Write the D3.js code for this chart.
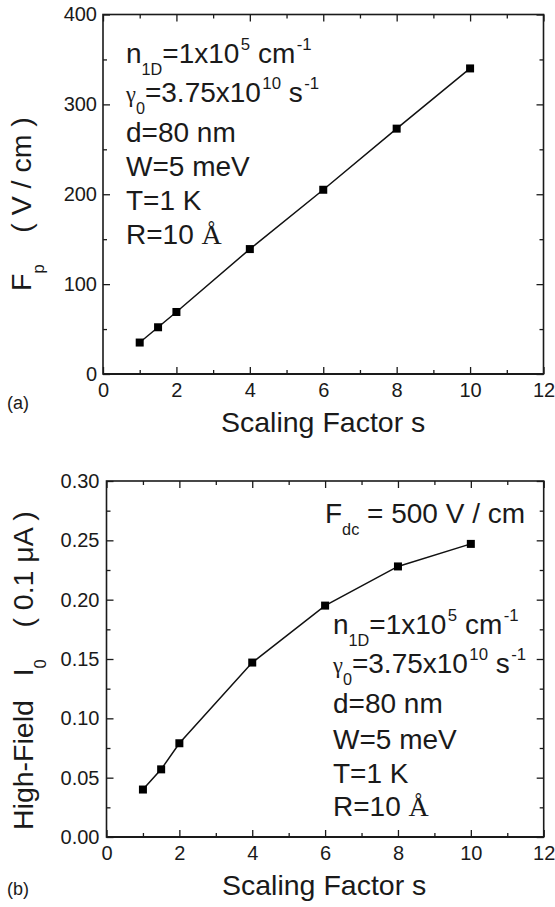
<!DOCTYPE html>
<html>
<head>
<meta charset="utf-8">
<script src="https://cdn.jsdelivr.net/npm/d3@7"></script>
<style>
  html, body { margin: 0; padding: 0; background: #fff; }
  svg { display: block; }
  text { font-family: "Liberation Sans", Arial, Helvetica, sans-serif; fill: #1a1a1a; white-space: pre; }
</style>
</head>
<body>
<svg id="chart" width="555" height="907"></svg>
<script>
// ---- data ----
const scaling = [1, 1.5, 2, 4, 6, 8, 10];
const pinningField = [35, 52, 69, 139, 205, 273, 340];          // F_p (V/cm)
const highFieldCurrent = [0.040, 0.057, 0.079, 0.147, 0.195, 0.228, 0.247]; // I_0 (0.1 uA)

const sTicks = [0, 2, 4, 6, 8, 10, 12];
const sMinor = [1, 3, 5, 7, 9, 11];
const fieldTicks = [0, 100, 200, 300, 400];
const fieldMinor = [50, 150, 250, 350];
const currentTicks = [0, 0.05, 0.10, 0.15, 0.20, 0.25, 0.30];
const currentMinor = [0.025, 0.075, 0.125, 0.175, 0.225, 0.275];

const xTitle = "Scaling Factor s";
const panelTags = ["(a)", "(b)"];

// rich-text segments: [text, style]
const paramLines = [
  [["n"], ["1D", "sub"], ["=1x10"], ["5", "sup"], [" cm"], ["-1", "sup"]],
  [["\u03B3", "greek"], ["0", "sub"], ["=3.75x10"], ["10", "sup"], [" s"], ["-1", "sup"]],
  [["d=80 nm"]],
  [["W=5 meV"]],
  [["T=1 K"]],
  [["R=10 "], ["\u00C5", "serif"]]
];
const fieldNote = [["F"], ["dc", "sub"], [" = 500 V / cm"]];
const fieldTitle = [["F"], ["p", "sub"], ["    ( V / cm )"]];
const currentTitle = [["High-Field   I"], ["0", "sub"], ["    ( 0.1 \u03BCA )"]];

// ---- drawing ----
const svg = d3.select("#chart");

function richText(g, segs, x, y, size, opts = {}) {
  const t = g.append("text")
    .attr("x", x).attr("y", y)
    .attr("font-size", size)
    .attr("text-anchor", opts.anchor || "start");
  if (opts.transform) t.attr("transform", opts.transform);
  let shift = 0;
  segs.forEach(([str, style]) => {
    const sp = t.append("tspan").text(str);
    let target = 0, fs = size;
    if (style === "sub") { target = size * 0.44; fs = size * 0.58; }
    if (style === "sup") { target = -size * 0.45; fs = size * 0.6; }
    if (style === "greek") { fs = size * 0.8; sp.attr("font-family", "'Liberation Serif', 'DejaVu Serif', serif"); }
    if (style === "serif") { sp.attr("font-family", "'Liberation Serif', 'DejaVu Serif', serif"); }
    sp.attr("font-size", fs);
    if (target !== shift) { sp.attr("dy", target - shift); shift = target; }
    if (style === "sup") sp.attr("dx", size * 0.05);
  });
  return t;
}

function panel(cfg) {
  const g = svg.append("g");
  const x = d3.scaleLinear().domain([0, 12]).range([cfg.left, cfg.right]);
  const y = d3.scaleLinear().domain(cfg.yDomain).range([cfg.bottom, cfg.top]);

  const axes = g.append("g").attr("class", "axes");
  const style = sel => {
    sel.select(".domain").remove();
    sel.selectAll("line").attr("stroke", "#1a1a1a").attr("stroke-width", 1.3);
    sel.selectAll("text").attr("font-size", 20).attr("fill", "#1a1a1a")
      .attr("font-family", "'Liberation Sans', Arial, sans-serif");
  };

  // bottom axis with labels
  axes.append("g").attr("transform", `translate(0,${cfg.bottom})`)
    .call(d3.axisBottom(x).tickValues(sTicks).tickSize(-7).tickPadding(9).tickFormat(d3.format("d")))
    .call(style);
  axes.append("g").attr("transform", `translate(0,${cfg.bottom})`)
    .call(d3.axisBottom(x).tickValues(sMinor).tickSize(-4).tickFormat("")).call(style);
  // top axis
  axes.append("g").attr("transform", `translate(0,${cfg.top})`)
    .call(d3.axisTop(x).tickValues(sTicks).tickSize(-7).tickFormat("")).call(style);
  axes.append("g").attr("transform", `translate(0,${cfg.top})`)
    .call(d3.axisTop(x).tickValues(sMinor).tickSize(-4).tickFormat("")).call(style);
  // left axis with labels
  axes.append("g").attr("transform", `translate(${cfg.left},0)`)
    .call(d3.axisLeft(y).tickValues(cfg.yTicks).tickSize(-7).tickPadding(cfg.yPad).tickFormat(cfg.yFormat))
    .call(style);
  axes.append("g").attr("transform", `translate(${cfg.left},0)`)
    .call(d3.axisLeft(y).tickValues(cfg.yMinor).tickSize(-4).tickFormat("")).call(style);
  // right axis
  axes.append("g").attr("transform", `translate(${cfg.right},0)`)
    .call(d3.axisRight(y).tickValues(cfg.yTicks).tickSize(-7).tickFormat("")).call(style);
  axes.append("g").attr("transform", `translate(${cfg.right},0)`)
    .call(d3.axisRight(y).tickValues(cfg.yMinor).tickSize(-4).tickFormat("")).call(style);

  // frame
  g.append("rect")
    .attr("x", cfg.left).attr("y", cfg.top)
    .attr("width", cfg.right - cfg.left).attr("height", cfg.bottom - cfg.top)
    .attr("fill", "none").attr("stroke", "#1a1a1a").attr("stroke-width", 1.6);
  g.append("line")
    .attr("x1", cfg.left).attr("x2", cfg.right)
    .attr("y1", cfg.bottom).attr("y2", cfg.bottom)
    .attr("stroke", "#1a1a1a").attr("stroke-width", 2.2);

  // series
  const pts = scaling.map((s, i) => [s, cfg.values[i]]);
  g.append("path")
    .datum(pts)
    .attr("fill", "none").attr("stroke", "#111").attr("stroke-width", 1.5)
    .attr("d", d3.line().x(d => x(d[0])).y(d => y(d[1])));
  g.selectAll("rect.pt").data(pts).join("rect")
    .attr("class", "pt")
    .attr("x", d => x(d[0]) - 4).attr("y", d => y(d[1]) - 4)
    .attr("width", 8).attr("height", 8).attr("fill", "#000");

  // axis titles
  g.append("text")
    .attr("x", cfg.xTitleX).attr("y", cfg.xTitleY)
    .attr("font-size", 28.5)
    .text(xTitle);
  richText(g, cfg.yTitle, 0, 0, 28.5, {
    transform: `translate(${cfg.yTitleX},${cfg.yTitleY}) rotate(-90)`
  });

  // panel tag
  g.append("text").attr("x", 7).attr("y", cfg.tagY).attr("font-size", 18).text(cfg.tag);

  // parameter block
  cfg.paramY.forEach((yy, i) => richText(g, paramLines[i], cfg.paramX, yy, 28));
  return { g, x, y };
}

panel({
  left: 103, right: 543.5, top: 14.5, bottom: 374,
  yDomain: [0, 400], yTicks: fieldTicks, yMinor: fieldMinor,
  yFormat: d3.format("d"), yPad: 6,
  values: pinningField,
  xTitleX: 221, xTitleY: 432, yTitle: fieldTitle, yTitleX: 31, yTitleY: 291,
  tag: panelTags[0], tagY: 409,
  paramX: 126, paramY: [63, 102, 142, 176, 210, 244]
});

const pb = panel({
  left: 106.5, right: 543.7, top: 481, bottom: 837,
  yDomain: [0, 0.30], yTicks: currentTicks, yMinor: currentMinor,
  yFormat: d3.format(".2f"), yPad: 7,
  values: highFieldCurrent,
  xTitleX: 222, xTitleY: 895, yTitle: currentTitle, yTitleX: 33, yTitleY: 830,
  tag: panelTags[1], tagY: 895,
  paramX: 333, paramY: [634, 673, 713, 749, 783, 816]
});

richText(pb.g, fieldNote, 325, 523, 28);
</script>
</body>
</html>
